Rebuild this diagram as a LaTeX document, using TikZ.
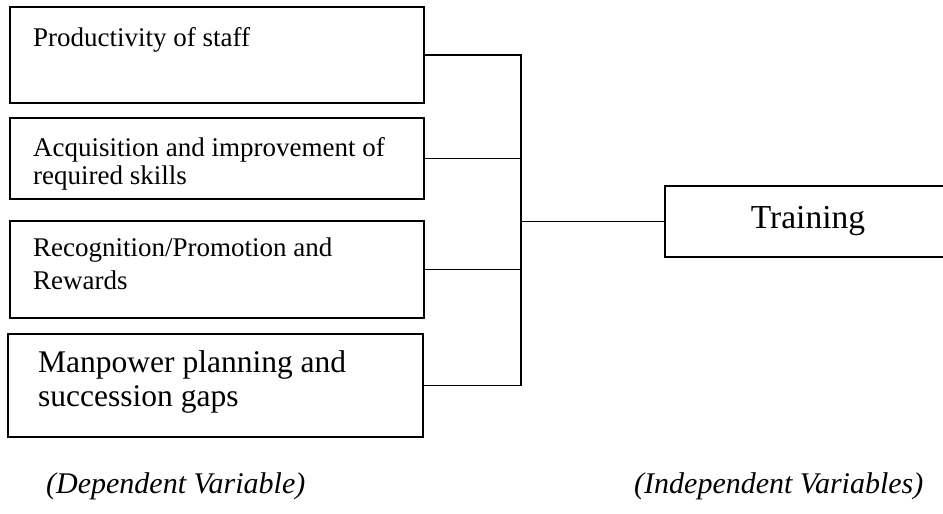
\documentclass[tikz,border=0pt]{standalone}
\usepackage{fontspec}
\setmainfont{Liberation Serif}
\begin{document}
\begin{tikzpicture}[x=1pt,y=-1pt,
  box/.style={draw=black,line width=1.4pt,inner sep=0pt},
  conn/.style={draw=black,line width=1.4pt},
  small/.style={font=\fontsize{27}{30}\selectfont,anchor=base west,inner sep=0pt},
  big/.style={font=\fontsize{31.5}{34}\selectfont,anchor=base west,inner sep=0pt},
  lab/.style={font=\fontsize{30}{32}\itshape,anchor=base west,inner sep=0pt}]
\useasboundingbox (0,0) rectangle (943,514);
\node[box,minimum width=414pt,minimum height=96pt] (b1) at (217,55) {};
\node[box,minimum width=414pt,minimum height=81pt] (b2) at (217,158.5) {};
\node[box,minimum width=414pt,minimum height=97pt] (b3) at (217,269.5) {};
\node[box,minimum width=415pt,minimum height=103pt] (b4) at (215.5,385.5) {};
\node[box,minimum width=286pt,minimum height=71pt,font=\fontsize{33.5}{36}\selectfont] (tr) at (808,221.5) {Training};
\coordinate (tk) at (521,0);
\node[small] (t1) at (33,46) {Productivity of staff};
\node[small] (t2a) at (33,156) {Acquisition and improvement of};
\node[small] (t2b) at (33,184) {required skills};
\node[small] (t3a) at (33,256) {Recognition/Promotion and};
\node[small] (t3b) at (33,289) {Rewards};
\node[big] (t4a) at (38,372) {Manpower planning and};
\node[big] (t4b) at (38,406) {succession gaps};
\node[lab] (dep) at (46,493) {(Dependent Variable)};
\node[lab] (ind) at (634,493) {(Independent Variables)};
\draw[conn] (b1.east) -| (tk |- b4.east) -- (b4.east);
\draw[conn] (b2.east) -- (b2.east -| tk);
\draw[conn] (b3.east) -- (b3.east -| tk);
\draw[conn] (tk |- tr.west) -- (tr.west);
\end{tikzpicture}
\end{document}
